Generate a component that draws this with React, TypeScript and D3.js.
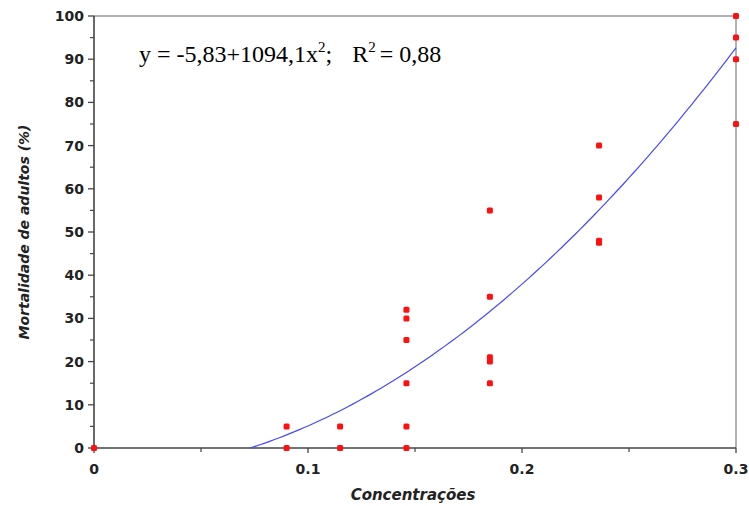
import React from "react";
import * as d3 from "d3";

const concX: number[] = [0, 0.09, 0.09, 0.115, 0.115, 0.146, 0.146, 0.146, 0.146, 0.146, 0.146, 0.185, 0.185, 0.185, 0.185, 0.185, 0.236, 0.236, 0.236, 0.236, 0.3, 0.3, 0.3, 0.3];
const mortY: number[] = [0, 5, 0, 5, 0, 32, 30, 25, 15, 5, 0, 55, 35, 21, 20, 15, 70, 58, 48, 47.5, 100, 95, 90, 75];
const yTicks: number[] = [0, 10, 20, 30, 40, 50, 60, 70, 80, 90, 100];
const yMinor: number[] = [5, 15, 25, 35, 45, 55, 65, 75, 85, 95];
const xTicks: number[] = [0, 0.1, 0.2, 0.3];
const xMinor: number[] = [0.05, 0.15, 0.25];
const fitA = -5.83;
const fitB = 1094.1;

export default function App() {
  const W = 749, H = 506;
  const x = d3.scaleLinear().domain([0, 0.3]).range([94, 736]);
  const y = d3.scaleLinear().domain([0, 100]).range([448, 16]);
  const x0 = Math.sqrt(-fitA / fitB);
  const curvePts: [number, number][] = d3.range(0, 101).map((i) => {
    const xv = x0 + ((0.3 - x0) * i) / 100;
    return [xv, fitA + fitB * xv * xv];
  });
  const line = d3.line<[number, number]>().x((d) => x(d[0])).y((d) => y(d[1]));
  const tickFont = "'DejaVu Sans', Verdana, sans-serif";
  const serif = "'Liberation Serif', 'Times New Roman', serif";
  return (
    <svg width={W} height={H} style={{ position: "absolute", left: 0, top: 0, background: "#fff" }}>
      <line x1={x(0)} x2={x(0.3)} y1={y(100)} y2={y(100)} stroke="#999" strokeWidth={1.5} />
      <line x1={x(0.3)} x2={x(0.3)} y1={y(100)} y2={y(0)} stroke="#999" strokeWidth={1.5} />
      <line x1={x(0)} x2={x(0.3)} y1={y(0)} y2={y(0)} stroke="#444" strokeWidth={1.6} />
      <line x1={x(0)} x2={x(0)} y1={y(100)} y2={y(0)} stroke="#444" strokeWidth={1.6} />
      {yTicks.map((t) => (
        <g key={"yt" + t}>
          <line x1={x(0) - 6} x2={x(0)} y1={y(t)} y2={y(t)} stroke="#444" strokeWidth={1.3} />
          <text x={x(0) - 10} y={y(t) + 5} textAnchor="end" fontFamily={tickFont} fontWeight="bold" fontSize={14} fill="#222">{t}</text>
        </g>
      ))}
      {yMinor.map((t) => (
        <line key={"ym" + t} x1={x(0) - 4} x2={x(0)} y1={y(t)} y2={y(t)} stroke="#444" strokeWidth={1.2} />
      ))}
      {xTicks.map((t) => (
        <g key={"xt" + t}>
          <line x1={x(t)} x2={x(t)} y1={y(0)} y2={y(0) + 5} stroke="#444" strokeWidth={1.3} />
          <text x={x(t)} y={y(0) + 26} textAnchor="middle" fontFamily={tickFont} fontWeight="bold" fontSize={14} fill="#222">{String(t)}</text>
        </g>
      ))}
      {xMinor.map((t) => (
        <line key={"xm" + t} x1={x(t)} x2={x(t)} y1={y(0)} y2={y(0) + 4} stroke="#444" strokeWidth={1.2} />
      ))}
      <path d={line(curvePts) || ""} fill="none" stroke="#4848ff" strokeWidth={1.2} />
      {concX.map((cx, i) => (
        <rect key={"p" + i} x={x(cx) - 3} y={y(mortY[i]) - 3} width={6} height={6} rx={1.5} fill="#ff1010" />
      ))}
      <text x={139} y={62} fontFamily={serif} fontSize={24} fill="#000">
        <tspan>y = -5,83+1094,1x</tspan>
        <tspan dy={-10} fontSize={15}>2</tspan>
        <tspan dy={10}>;</tspan>
        <tspan dx={20}>R</tspan>
        <tspan dy={-10} fontSize={15}>2</tspan>
        <tspan dy={10} dx={4}>= 0,88</tspan>
      </text>
      <text transform={`translate(29,232) rotate(-90)`} textAnchor="middle" fontFamily={tickFont} fontWeight="bold" fontStyle="italic" fontSize={14} fill="#222">Mortalidade de adultos (%)</text>
      <text x={413} y={500} textAnchor="middle" fontFamily={tickFont} fontWeight="bold" fontStyle="italic" fontSize={15} fill="#222">Concentrações</text>
    </svg>
  );
}
